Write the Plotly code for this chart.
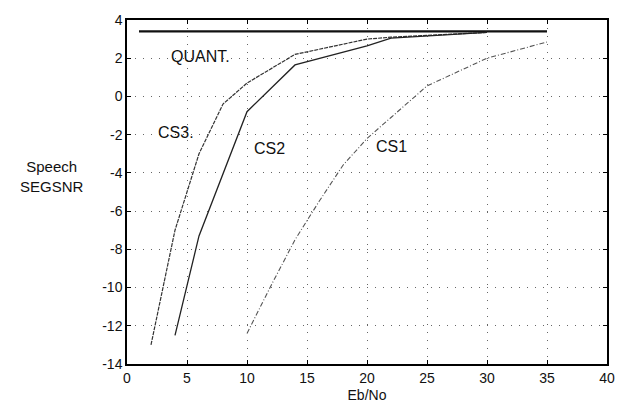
import plotly.graph_objects as go

# Data
quant_x = [1, 35]
quant_y = [3.4, 3.4]

cs3_x = [2, 4, 6, 8, 10, 14, 20, 22, 30]
cs3_y = [-13, -7.0, -3.0, -0.4, 0.7, 2.2, 3.0, 3.1, 3.35]

cs2_x = [4, 6, 10, 14, 20, 22, 30]
cs2_y = [-12.5, -7.3, -0.8, 1.65, 2.65, 3.05, 3.35]

cs1_x = [10, 12, 14, 16, 18, 20, 22, 25, 30, 35]
cs1_y = [-12.4, -9.9, -7.5, -5.5, -3.6, -2.2, -1.1, 0.55, 2.0, 2.85]

x_ticks = [0, 5, 10, 15, 20, 25, 30, 35, 40]
y_ticks = [4, 2, 0, -2, -4, -6, -8, -10, -12, -14]
y_tick_text = [str(v) for v in y_ticks]

labels = ["QUANT.", "CS3.", "CS2", "CS1"]
label_x = [6.1, 4.1, 11.9, 22.0]
label_y = [2.1, -1.9, -2.7, -2.6]

FONT = "Liberation Sans, Arial"

fig = go.Figure()
fig.add_trace(go.Scatter(x=quant_x, y=quant_y, mode="lines",
                         line=dict(color="#111111", width=2.2), showlegend=False))
fig.add_trace(go.Scatter(x=cs3_x, y=cs3_y, mode="lines",
                         line=dict(color="#333333", width=1.2, dash="4px,1px"), showlegend=False))
fig.add_trace(go.Scatter(x=cs2_x, y=cs2_y, mode="lines",
                         line=dict(color="#222222", width=1.3), showlegend=False))
fig.add_trace(go.Scatter(x=cs1_x, y=cs1_y, mode="lines",
                         line=dict(color="#555555", width=1.1, dash="5px,2px,1px,2px"), showlegend=False))

for t, x, y in zip(labels, label_x, label_y):
    fig.add_annotation(x=x, y=y, text=t, showarrow=False,
                       font=dict(family=FONT, size=16, color="#111111"))

axis_common = dict(
    showline=True, linecolor="black", linewidth=1.5, mirror="ticks",
    ticks="inside", ticklen=4, tickcolor="black",
    showgrid=True, gridcolor="#666666", griddash="1px,7px", gridwidth=1,
    zeroline=False,
    tickfont=dict(family=FONT, size=14, color="#111111"),
)

fig.update_xaxes(range=[0, 40], tickvals=x_ticks,
                 title=dict(text="Eb/No", standoff=6,
                            font=dict(family=FONT, size=14, color="#111111")),
                 **axis_common)
fig.update_yaxes(range=[-14, 4], tickvals=y_ticks, ticktext=y_tick_text, **axis_common)

fig.add_annotation(xref="paper", yref="paper", x=-0.156, y=0.545, xanchor="center",
                   text="Speech<br>SEGSNR", showarrow=False, align="center",
                   font=dict(family=FONT, size=15, color="#111111"))

fig.update_layout(
    width=627, height=414,
    margin=dict(l=127, r=19, t=15, b=50),
    plot_bgcolor="white", paper_bgcolor="white",
)

fig.write_html("out.html")
